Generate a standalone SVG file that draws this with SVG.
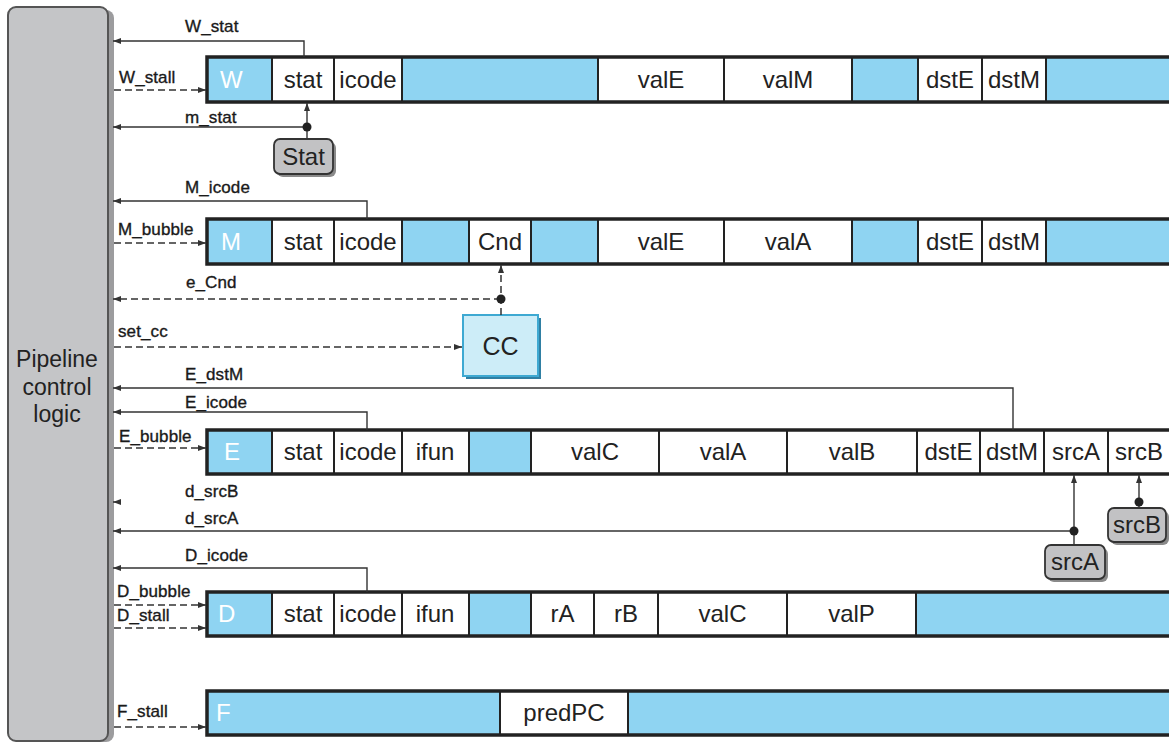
<svg xmlns="http://www.w3.org/2000/svg" width="1169" height="743" viewBox="0 0 1169 743">
<defs>
<style>
.b{fill:#8fd4f2;stroke:#222;stroke-width:2}
.w{fill:#fff;stroke:#222;stroke-width:2}
.frame{fill:none;stroke:#222;stroke-width:3.5}
.ct{font-family:"Liberation Sans",Arial,sans-serif;font-size:24px;fill:#222;text-anchor:middle}
.st{font-family:"Liberation Sans",Arial,sans-serif;font-size:24px;fill:#fff}
.lb{font-family:"Liberation Sans",Arial,sans-serif;font-size:17px;fill:#1a1a1a;stroke:#1a1a1a;stroke-width:0.35;letter-spacing:0.1px}
.sol{fill:none;stroke:#333;stroke-width:1.4}
.dash{fill:none;stroke:#333;stroke-width:1.5;stroke-dasharray:7 4}
.dot{fill:#222}
.gbox{fill:#c2c2c4;stroke:#333;stroke-width:1.8}
.gsh{fill:#8a8a8a}
</style>
<marker id="ah" viewBox="0 0 8 6" refX="8" refY="3" markerWidth="8" markerHeight="6" markerUnits="userSpaceOnUse" orient="auto">
<path d="M0,0 L8,3 L0,6 z" fill="#333"/>
</marker>
</defs>
<rect width="1169" height="743" fill="#fff"/>

<g id="control-logic">
<rect x="14" y="10" width="100" height="732" rx="8" fill="#9c9c9e"/>
<rect x="8" y="7" width="100" height="734" rx="8" fill="#c4c5c7" stroke="#555" stroke-width="2"/>
<text class="ct" x="57" y="367" style="font-size:23px">Pipeline</text>
<text class="ct" x="57" y="395" style="font-size:23px">control</text>
<text class="ct" x="57" y="422" style="font-size:23px">logic</text>
</g>

<g id="W-reg">
<rect class="b" x="207" y="57" width="65" height="45"/>
<rect class="w" x="272" y="57" width="62" height="45"/>
<rect class="w" x="334" y="57" width="68" height="45"/>
<rect class="b" x="402" y="57" width="196" height="45"/>
<rect class="w" x="598" y="57" width="126" height="45"/>
<rect class="w" x="724" y="57" width="128" height="45"/>
<rect class="b" x="852" y="57" width="66" height="45"/>
<rect class="w" x="918" y="57" width="64" height="45"/>
<rect class="w" x="982" y="57" width="64" height="45"/>
<rect class="b" x="1046" y="57" width="130" height="45"/>
<rect class="frame" x="207" y="57" width="970" height="45"/>
<text class="st" x="220" y="88">W</text>
<text class="ct" x="303" y="88">stat</text>
<text class="ct" x="368" y="88">icode</text>
<text class="ct" x="661" y="88">valE</text>
<text class="ct" x="788" y="88">valM</text>
<text class="ct" x="950" y="88">dstE</text>
<text class="ct" x="1014" y="88">dstM</text>
</g>

<g id="Stat">
<rect class="gsh" x="277" y="142" width="59" height="35" rx="6"/>
<rect class="gbox" x="274" y="139" width="59" height="35" rx="6"/>
<text class="ct" x="303.5" y="165">Stat</text>
</g>

<g id="M-reg">
<rect class="b" x="207" y="219" width="65" height="45"/>
<rect class="w" x="272" y="219" width="62" height="45"/>
<rect class="w" x="334" y="219" width="68" height="45"/>
<rect class="b" x="402" y="219" width="67" height="45"/>
<rect class="w" x="469" y="219" width="62" height="45"/>
<rect class="b" x="531" y="219" width="67" height="45"/>
<rect class="w" x="598" y="219" width="126" height="45"/>
<rect class="w" x="724" y="219" width="128" height="45"/>
<rect class="b" x="852" y="219" width="66" height="45"/>
<rect class="w" x="918" y="219" width="64" height="45"/>
<rect class="w" x="982" y="219" width="64" height="45"/>
<rect class="b" x="1046" y="219" width="130" height="45"/>
<rect class="frame" x="207" y="219" width="970" height="45"/>
<text class="st" x="221" y="250">M</text>
<text class="ct" x="303" y="250">stat</text>
<text class="ct" x="368" y="250">icode</text>
<text class="ct" x="500" y="250">Cnd</text>
<text class="ct" x="661" y="250">valE</text>
<text class="ct" x="788" y="250">valA</text>
<text class="ct" x="950" y="250">dstE</text>
<text class="ct" x="1014" y="250">dstM</text>
</g>

<g id="CC">
<rect x="466" y="318" width="75" height="61" fill="#2f7fa3"/>
<rect x="463" y="315" width="75" height="61" fill="#cdedf8" stroke="#3ea9d2" stroke-width="2"/>
<text class="ct" x="500.5" y="355" style="font-size:25px">CC</text>
</g>

<g id="E-reg">
<rect class="b" x="207" y="430" width="65" height="44"/>
<rect class="w" x="272" y="430" width="62" height="44"/>
<rect class="w" x="334" y="430" width="68" height="44"/>
<rect class="w" x="402" y="430" width="67" height="44"/>
<rect class="b" x="469" y="430" width="62" height="44"/>
<rect class="w" x="531" y="430" width="128" height="44"/>
<rect class="w" x="659" y="430" width="128" height="44"/>
<rect class="w" x="787" y="430" width="130" height="44"/>
<rect class="w" x="917" y="430" width="63" height="44"/>
<rect class="w" x="980" y="430" width="64" height="44"/>
<rect class="w" x="1044" y="430" width="64" height="44"/>
<rect class="w" x="1108" y="430" width="68" height="44"/>
<rect class="frame" x="207" y="430" width="970" height="44"/>
<text class="st" x="224" y="460">E</text>
<text class="ct" x="303" y="460">stat</text>
<text class="ct" x="368" y="460">icode</text>
<text class="ct" x="435" y="460">ifun</text>
<text class="ct" x="595" y="460">valC</text>
<text class="ct" x="723" y="460">valA</text>
<text class="ct" x="852" y="460">valB</text>
<text class="ct" x="948.5" y="460">dstE</text>
<text class="ct" x="1012" y="460">dstM</text>
<text class="ct" x="1076" y="460">srcA</text>
<text class="ct" x="1139" y="460">srcB</text>
</g>

<g id="srcB">
<rect class="gsh" x="1111" y="511" width="58" height="34" rx="6"/>
<rect class="gbox" x="1108" y="508" width="58" height="34" rx="6"/>
<text class="ct" x="1137" y="533">srcB</text>
</g>

<g id="srcA">
<rect class="gsh" x="1048" y="548" width="60" height="34" rx="6"/>
<rect class="gbox" x="1045" y="545" width="60" height="34" rx="6"/>
<text class="ct" x="1075" y="570">srcA</text>
</g>

<g id="D-reg">
<rect class="b" x="207" y="592" width="65" height="44"/>
<rect class="w" x="272" y="592" width="62" height="44"/>
<rect class="w" x="334" y="592" width="68" height="44"/>
<rect class="w" x="402" y="592" width="67" height="44"/>
<rect class="b" x="469" y="592" width="62" height="44"/>
<rect class="w" x="531" y="592" width="63" height="44"/>
<rect class="w" x="594" y="592" width="64" height="44"/>
<rect class="w" x="658" y="592" width="129" height="44"/>
<rect class="w" x="787" y="592" width="129" height="44"/>
<rect class="b" x="916" y="592" width="260" height="44"/>
<rect class="frame" x="207" y="592" width="970" height="44"/>
<text class="st" x="218" y="622">D</text>
<text class="ct" x="303" y="622">stat</text>
<text class="ct" x="368" y="622">icode</text>
<text class="ct" x="435" y="622">ifun</text>
<text class="ct" x="562.5" y="622">rA</text>
<text class="ct" x="626" y="622">rB</text>
<text class="ct" x="722.5" y="622">valC</text>
<text class="ct" x="851.5" y="622">valP</text>
</g>

<g id="F-reg">
<rect class="b" x="207" y="691" width="293" height="44"/>
<rect class="w" x="500" y="691" width="128" height="44"/>
<rect class="b" x="628" y="691" width="548" height="44"/>
<rect class="frame" x="207" y="691" width="970" height="44"/>
<text class="st" x="216" y="721">F</text>
<text class="ct" x="564" y="721">predPC</text>
</g>

<g id="connectors">
<path class="sol" d="M304,57 V41 H113" marker-end="url(#ah)"/>
<path class="dash" d="M114,90 H206" marker-end="url(#ah)"/>
<path class="sol" d="M307,139 V103" marker-end="url(#ah)"/>
<path class="sol" d="M307,127 H113" marker-end="url(#ah)"/>
<circle class="dot" cx="307" cy="127" r="4.5"/>
<path class="sol" d="M367,219 V201 H113" marker-end="url(#ah)"/>
<path class="dash" d="M114,243 H206" marker-end="url(#ah)"/>
<path class="dash" d="M501,315 V265" marker-end="url(#ah)"/>
<path class="dash" d="M501,299 H113" marker-end="url(#ah)"/>
<circle class="dot" cx="501" cy="299" r="4.5"/>
<path class="dash" d="M114,347 H462" marker-end="url(#ah)"/>
<path class="sol" d="M1013,430 V388 H113" marker-end="url(#ah)"/>
<path class="sol" d="M367,430 V412 H113" marker-end="url(#ah)"/>
<path class="dash" d="M114,448 H206" marker-end="url(#ah)"/>
<path class="sol" d="M119,502 H113" marker-end="url(#ah)"/>
<path class="sol" d="M1074,545 V475" marker-end="url(#ah)"/>
<path class="sol" d="M1074,531 H113" marker-end="url(#ah)"/>
<circle class="dot" cx="1074" cy="531" r="4.5"/>
<path class="sol" d="M1139,508 V475" marker-end="url(#ah)"/>
<circle class="dot" cx="1139" cy="502" r="4.5"/>
<path class="sol" d="M367,592 V568 H113" marker-end="url(#ah)"/>
<path class="dash" d="M114,605 H206" marker-end="url(#ah)"/>
<path class="dash" d="M114,628 H206" marker-end="url(#ah)"/>
<path class="dash" d="M114,727 H206" marker-end="url(#ah)"/>
<text class="lb" x="185" y="32">W_stat</text>
<text class="lb" x="119" y="83">W_stall</text>
<text class="lb" x="185" y="123">m_stat</text>
<text class="lb" x="185" y="193">M_icode</text>
<text class="lb" x="118" y="235">M_bubble</text>
<text class="lb" x="186" y="288">e_Cnd</text>
<text class="lb" x="118" y="337">set_cc</text>
<text class="lb" x="185" y="380">E_dstM</text>
<text class="lb" x="185" y="408">E_icode</text>
<text class="lb" x="119" y="442">E_bubble</text>
<text class="lb" x="185" y="497">d_srcB</text>
<text class="lb" x="185" y="524">d_srcA</text>
<text class="lb" x="185" y="561">D_icode</text>
<text class="lb" x="117" y="597">D_bubble</text>
<text class="lb" x="117" y="621">D_stall</text>
<text class="lb" x="117" y="717">F_stall</text>
</g>
</svg>
